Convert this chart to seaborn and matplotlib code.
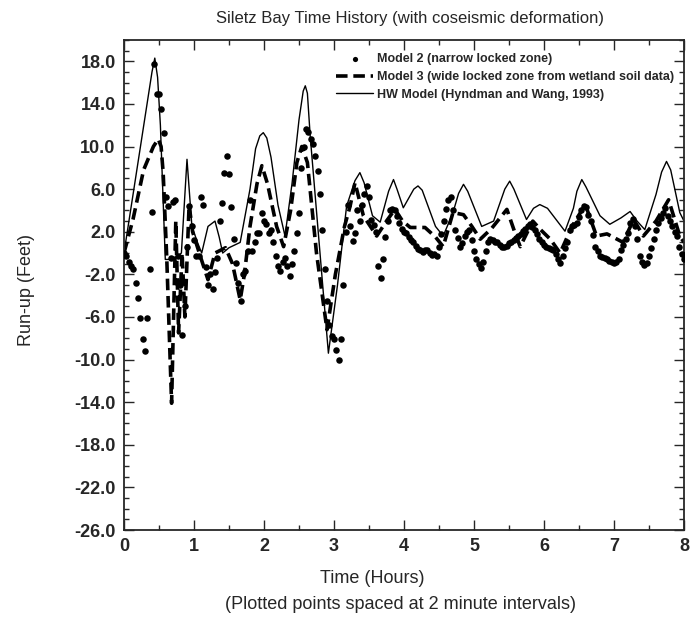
import numpy as np
import pandas as pd
import matplotlib
matplotlib.use('Agg')
import matplotlib.pyplot as plt
from matplotlib.ticker import MultipleLocator
import seaborn as sns

# Model 2: puntos cada 2 minutos (0 a 8 horas)
model2_feet = [
    0.0, -0.3, -0.8, -1.2, -1.5, -2.8, -4.2, -6.1, -8.1, -9.2, -6.1, -1.5, 3.9, 17.7, 14.9,
    14.9, 13.5, 11.3, 5.3, 4.4, -0.5, 4.8, 5.0, -0.3, -3.0, -7.7, -5.0, 0.6, 4.4, 2.5,
    1.2, -0.3, -0.3, 5.3, 4.5, -1.3, -3.0, -2.0, -3.4, -1.8, -0.5, 3.0, 4.7, 7.5, 9.1,
    7.4, 4.3, 1.3, -0.9, -2.8, -4.5, -2.0, -1.7, 0.2, 5.0, 0.2, 1.0, 1.9, 1.9, 3.8,
    3.0, 2.7, 1.9, 2.2, 1.0, -0.3, -1.2, -1.7, -0.8, -0.5, -1.2, -2.2, -1.0, 0.2, 1.9,
    3.8, 8.0, 10.0, 11.6, 11.4, 10.7, 10.2, 9.1, 7.7, 5.5, 2.2, -1.5, -4.5, -6.8, -7.8,
    -8.1, -9.1, -10.0, -8.1, -3.0, 2.0, 4.5, 2.5, 1.1, 1.9, 4.0, 3.0, 4.5, 5.5, 6.3,
    5.3, 3.1, 2.6, 2.0, -1.2, -2.3, -0.6, 1.5, 3.0, 4.0, 4.1, 4.0, 3.5, 2.8, 2.3,
    2.0, 1.9, 1.5, 1.2, 1.0, 0.7, 0.4, 0.3, 0.1, 0.3, 0.3, 0.0, -0.2, -0.1, -0.3,
    0.6, 1.8, 3.0, 4.1, 5.0, 5.3, 4.0, 2.2, 1.4, 0.6, 0.9, 1.6, 2.0, 2.2, 1.2,
    0.2, -0.6, -1.0, -1.4, -0.8, 0.2, 1.0, 1.3, 1.2, 1.0, 1.0, 0.8, 0.6, 0.6, 0.7,
    0.9, 1.0, 1.2, 1.4, 1.6, 1.8, 2.1, 2.3, 2.5, 2.7, 2.4, 2.2, 1.8, 1.3, 1.0,
    0.8, 0.6, 0.5, 0.4, 0.3, -0.1, -0.6, -0.9, -0.3, 0.5, 1.0, 2.2, 2.5, 2.6, 2.8,
    3.4, 4.0, 4.4, 4.3, 3.6, 3.0, 1.7, 0.6, 0.2, -0.3, -0.4, -0.5, -0.6, -0.7, -0.8,
    -0.9, -0.8, -0.6, 0.3, 0.8, 1.3, 1.9, 2.8, 3.15, 2.5, 1.3, -0.3, -0.8, -1.1, -0.9,
    -0.3, 0.5, 1.3, 2.2, 2.8, 3.3, 3.8, 4.25, 3.5, 3.0, 2.5, 2.0, 1.6, 0.6, -0.1,
    -0.6,
]
model2_hours = np.arange(len(model2_feet)) * 2 / 60

# Model 3 (línea discontinua)
model3_hours = [0, 0.13, 0.28, 0.42, 0.49, 0.53, 0.56, 0.61, 0.68, 0.74, 0.78, 0.83, 0.87,
                0.93, 0.98, 1.1, 1.2, 1.3, 1.45, 1.55, 1.66, 1.72, 1.8, 1.9, 1.97, 2.05,
                2.18, 2.28, 2.38, 2.47, 2.54, 2.62, 2.75, 2.9, 3.02, 3.15, 3.23, 3.3, 3.42,
                3.61, 3.75, 3.87, 3.98, 4.09, 4.3, 4.45, 4.56, 4.7, 4.85, 4.97, 5.09, 5.25,
                5.47, 5.58, 5.66, 5.75, 5.84, 5.95, 6.09, 6.23, 6.4, 6.59, 6.75, 6.9, 7.13,
                7.28, 7.42, 7.6, 7.78, 7.94, 8.0]
model3_feet = [0, 3.2, 7.8, 10.0, 10.7, 10.0, 7.5, -0.3, -14.1, 3.0, -7.5, 0.0, -6.0,
               4.5, 2.0, -0.5, -2.5, 0.0, 0.5, -1.0, -4.4, -2.0, 2.5, 6.5, 8.2, 6.5,
               2.5, 0.6, 4.0, 8.5, 10.0, 8.5, 0.0, -7.2, -2.0, 2.5, 4.4, 6.6, 3.5,
               1.6, 3.0, 4.1, 3.0, 2.4, 2.4, 1.5, 0.6, 3.8, 3.6, 2.5, 1.3, 2.3,
               4.1, 2.0, 0.6, 1.8, 3.0, 2.2, 1.3, 0.0, 2.5, 4.55, 1.6, 1.8, 1.0,
               3.15, 1.6, 3.0, 5.0, 1.6, 1.0]

# HW Model (línea continua)
hw_hours = [0, 0.4, 0.44, 0.48, 0.52, 0.59, 0.7, 0.82, 0.9, 0.97, 1.05, 1.11, 1.2, 1.3,
            1.36, 1.41, 1.5, 1.66, 1.8, 1.88, 1.94, 1.99, 2.04, 2.1, 2.2, 2.3, 2.4, 2.5,
            2.56, 2.59, 2.62, 2.66, 2.8, 2.92, 3.05, 3.18, 3.3, 3.37, 3.43, 3.55, 3.66,
            3.78, 3.85, 3.9, 3.99, 4.14, 4.2, 4.26, 4.45, 4.56, 4.7, 4.78, 4.85, 4.91,
            5.11, 5.28, 5.44, 5.51, 5.57, 5.75, 5.85, 5.94, 6.05, 6.3, 6.42, 6.47, 6.54,
            6.6, 6.8, 6.94, 7.1, 7.23, 7.33, 7.44, 7.6, 7.68, 7.75, 7.81, 7.94, 8.0]
hw_feet = [0, 17.0, 18.3, 16.5, 12.0, -0.6, -0.6, 0.0, 8.8, 2.5, 1.0, 0.0, 2.5, 3.0,
           1.5, 0.0, 0.5, 1.0, 6.0, 9.8, 11.0, 11.3, 10.8, 9.0, 4.5, 1.6, 6.5, 12.5,
           15.2, 15.7, 15.0, 11.0, 0.0, -9.4, -3.0, 4.4, 6.8, 7.55, 6.6, 3.5, 2.9,
           5.8, 6.9, 6.0, 4.25, 6.0, 6.3, 5.9, 2.5, 1.6, 3.8, 5.6, 6.45, 5.8,
           2.5, 3.0, 6.0, 6.75, 6.0, 3.15, 4.2, 4.55, 4.2, 2.05, 4.2, 5.8, 6.9,
           6.2, 3.5, 2.7, 3.3, 3.9, 3.0, 2.2, 5.5, 7.6, 8.6, 7.8, 3.8, 3.0]

y_ticks = np.arange(-26, 19, 4)

sns.set_style('ticks')
plt.rcParams['font.family'] = ['Liberation Sans', 'DejaVu Sans']

fig = plt.figure(figsize=(6.9, 6.21), dpi=100)
ax = fig.add_axes([0.1797, 0.1465, 0.8116, 0.7891])

sns.scatterplot(x=model2_hours, y=model2_feet, ax=ax, color='black', s=22,
                linewidth=0, label='Model 2 (narrow locked zone)', zorder=3)
sns.lineplot(x=model3_hours, y=model3_feet, ax=ax, color='black', lw=2.6,
             linestyle=(0, (3.2, 1.6)), sort=False, estimator=None,
             label='Model 3 (wide locked zone from wetland soil data)')
sns.lineplot(x=hw_hours, y=hw_feet, ax=ax, color='black', lw=1.0,
             sort=False, estimator=None, label='HW Model (Hyndman and Wang, 1993)')

ax.set_xlim(0, 8)
ax.set_ylim(-26, 20)
ax.set_yticks(y_ticks)
ax.set_yticklabels([f'{v:.1f}' for v in y_ticks])
ax.xaxis.set_minor_locator(MultipleLocator(0.5))
ax.yaxis.set_minor_locator(MultipleLocator(1))
ax.tick_params(which='both', direction='in', top=True, right=True, width=1.0)
ax.tick_params(which='major', length=7, labelsize=13, pad=6)
ax.tick_params(which='minor', length=3.5)
for lab in ax.get_xticklabels() + ax.get_yticklabels():
    lab.set_fontweight('bold')
for sp in ax.spines.values():
    sp.set_linewidth(1.3)
ax.set_xlabel('')
ax.set_ylabel('')

leg = ax.legend(loc='upper right', bbox_to_anchor=(0.985, 0.975), frameon=False,
                fontsize=9, handlelength=3.0, handletextpad=0.3, labelspacing=0.45,
                borderaxespad=0, borderpad=0.1, markerscale=0.8)
for t in leg.get_texts():
    t.set_fontweight('bold')

fig.text(0.594, 0.971, 'Siletz Bay Time History (with coseismic deformation)',
         ha='center', va='center', fontsize=12)
fig.text(0.039, 0.533, 'Run-up (Feet)', rotation=90, ha='center', va='center', fontsize=13)
fig.text(0.539, 0.069, 'Time (Hours)', ha='center', va='center', fontsize=13)
fig.text(0.581, 0.027, '(Plotted points spaced at 2 minute intervals)',
         ha='center', va='center', fontsize=13)

fig.savefig('out.png', dpi=100)
